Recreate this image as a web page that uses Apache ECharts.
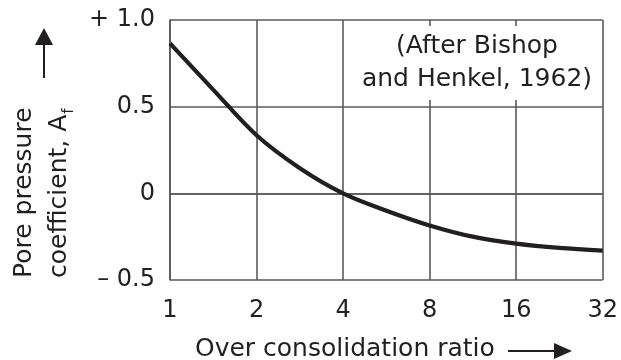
<!DOCTYPE html>
<html>
<head>
<meta charset="utf-8">
<script src="https://cdn.jsdelivr.net/npm/echarts@6/dist/echarts.min.js"></script>
<style>
  html, body { margin: 0; padding: 0; background: #fff; }
  #chart { width: 621px; height: 360px; }
</style>
</head>
<body>
<div id="chart"></div>
<script>
// Over consolidation ratio (log base 2 axis)
const ocr = [1, 1.41, 2, 2.83, 4, 5.66, 8, 11.3, 16, 22.6, 32];
// Pore pressure coefficient at failure, A_f
const af = [0.865, 0.60, 0.335, 0.145, 0.0, -0.10, -0.185, -0.25, -0.29, -0.315, -0.33];

const xTicks = [1, 2, 4, 8, 16, 32];
const yTicks = [-0.5, 0, 0.5, 1.0];
const yTickLabels = ['\u2013 0.5', '0', '0.5', '+ 1.0'];

const ink = '#231f20';
const gridColor = '#5a5a5a';
const font = 'DejaVu Sans';

const chart = echarts.init(document.getElementById('chart'), null, { renderer: 'canvas' });

chart.setOption({
  backgroundColor: '#fff',
  animation: false,
  grid: { left: 170, right: 18, top: 20, bottom: 80 },
  xAxis: {
    type: 'log',
    logBase: 2,
    min: xTicks[0],
    max: xTicks[xTicks.length - 1],
    axisLine: { show: true, lineStyle: { color: gridColor, width: 1.6 } },
    axisTick: { show: false },
    splitLine: { show: true, lineStyle: { color: gridColor, width: 1.6 } },
    axisLabel: {
      margin: 19,
      color: ink,
      fontFamily: font,
      fontSize: 24,
      formatter: v => String(Math.round(v))
    }
  },
  yAxis: {
    type: 'value',
    min: yTicks[0],
    max: yTicks[yTicks.length - 1],
    interval: 0.5,
    axisLine: { show: true, lineStyle: { color: gridColor, width: 1.6 } },
    axisTick: { show: false },
    splitLine: { show: true, lineStyle: { color: gridColor, width: 1.6 } },
    axisLabel: {
      margin: 15,
      color: ink,
      fontFamily: font,
      fontSize: 24,
      formatter: v => {
        const i = yTicks.findIndex(t => Math.abs(t - v) < 1e-9);
        return i >= 0 ? yTickLabels[i] : '';
      }
    }
  },
  series: [{
    type: 'line',
    data: ocr.map((x, i) => [x, af[i]]),
    smooth: 0.35,
    showSymbol: false,
    lineStyle: { color: ink, width: 4.2 },
    z: 3
  }],
  graphic: [
    // white panel behind the source note
    { type: 'rect', z: 10, shape: { x: 350, y: 26, width: 248, height: 74 }, style: { fill: '#fff' } },
    {
      type: 'text', z: 11, x: 477, y: 63,
      style: {
        text: '(After Bishop\nand Henkel, 1962)',
        fill: ink, font: '25px "DejaVu Sans"',
        align: 'center', verticalAlign: 'middle', lineHeight: 33
      }
    },
    // y axis title, reading upwards
    {
      type: 'text', z: 11, x: 42, y: 278, rotation: Math.PI / 2,
      style: {
        text: 'Pore pressure\ncoefficient, A{sub|f}',
        fill: ink, font: '25px "DejaVu Sans"',
        align: 'left', verticalAlign: 'middle', lineHeight: 35,
        rich: {
          sub: { fontFamily: font, fontSize: 15, fill: ink, verticalAlign: 'bottom', lineHeight: 35, padding: [14, 0, 0, 1] }
        }
      }
    },
    // upward arrow above the y title
    { type: 'line', z: 11, shape: { x1: 44, y1: 78, x2: 44, y2: 44 }, style: { stroke: ink, lineWidth: 2 } },
    { type: 'polygon', z: 11, shape: { points: [[35, 45], [53, 45], [44, 28]] }, style: { fill: ink } },
    // x axis title with arrow
    {
      type: 'text', z: 11, x: 195, y: 349,
      style: {
        text: 'Over consolidation ratio',
        fill: ink, font: '25px "DejaVu Sans"',
        align: 'left', verticalAlign: 'middle'
      }
    },
    { type: 'line', z: 11, shape: { x1: 508, y1: 351, x2: 556, y2: 351 }, style: { stroke: ink, lineWidth: 2 } },
    { type: 'polygon', z: 11, shape: { points: [[554, 343], [554, 359], [572, 351]] }, style: { fill: ink } }
  ]
});
</script>
</body>
</html>
